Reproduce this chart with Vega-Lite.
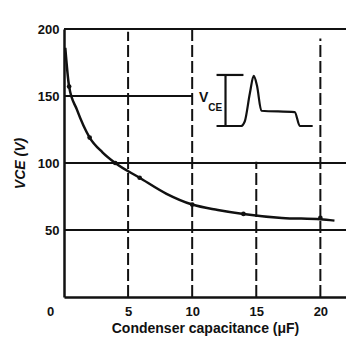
{
  "$schema": "https://vega.github.io/schema/vega-lite/v6.json",
  "autosize": "none",
  "width": 282,
  "height": 268,
  "padding": {"left": 64, "top": 29, "right": 0, "bottom": 42},
  "background": "white",
  "config": {
    "view": {"stroke": null},
    "font": "Liberation Sans",
    "axis": {"grid": false, "domainColor": "#111", "domainWidth": 2.5, "tickColor": "#111", "labelColor": "#111", "titleColor": "#111", "labelFont": "Liberation Sans", "titleFont": "Liberation Sans", "labelFontWeight": "bold", "titleFontWeight": "bold", "labelFontSize": 13, "titleFontSize": 13}
  },
  "datasets": {
    "hlines": [
      {"x": 0, "x2": 22, "y": 200},
      {"x": 0, "x2": 10, "y": 150},
      {"x": 0, "x2": 22, "y": 100},
      {"x": 0, "x2": 22, "y": 50}
    ],
    "vlines": [
      {"x": 5, "y": 0, "y2": 198},
      {"x": 10, "y": 0, "y2": 200},
      {"x": 15, "y": 0, "y2": 101},
      {"x": 20, "y": 0, "y2": 193}
    ],
    "curve": [
      {"c": 0.1, "v": 186},
      {"c": 0.4, "v": 157},
      {"c": 1.0, "v": 140},
      {"c": 2.0, "v": 119},
      {"c": 3.0, "v": 108},
      {"c": 4.0, "v": 100},
      {"c": 5.9, "v": 89},
      {"c": 8.0, "v": 77},
      {"c": 10.0, "v": 69},
      {"c": 12.0, "v": 65},
      {"c": 14.0, "v": 62},
      {"c": 17.0, "v": 59},
      {"c": 20.0, "v": 58},
      {"c": 21.1, "v": 57}
    ],
    "points": [
      {"c": 0.4, "v": 157},
      {"c": 2.0, "v": 119},
      {"c": 4.0, "v": 100},
      {"c": 5.9, "v": 89},
      {"c": 10.0, "v": 69},
      {"c": 14.0, "v": 62},
      {"c": 20.0, "v": 59}
    ],
    "inset": [
      {"part": "top", "o": 1, "t": 11.9, "v": 165.7},
      {"part": "top", "o": 2, "t": 14.0, "v": 165.7},
      {"part": "bar", "o": 1, "t": 12.6, "v": 165.7},
      {"part": "bar", "o": 2, "t": 12.6, "v": 127.6},
      {"part": "wave", "o": 1, "t": 11.9, "v": 127.6},
      {"part": "wave", "o": 2, "t": 13.8, "v": 127.6},
      {"part": "wave", "o": 3, "t": 14.1, "v": 131},
      {"part": "wave", "o": 4, "t": 14.5, "v": 152},
      {"part": "wave", "o": 5, "t": 14.8, "v": 165},
      {"part": "wave", "o": 6, "t": 15.05, "v": 158},
      {"part": "wave", "o": 7, "t": 15.4, "v": 139},
      {"part": "wave", "o": 8, "t": 18.0, "v": 138},
      {"part": "wave", "o": 9, "t": 18.4, "v": 127.6},
      {"part": "wave", "o": 10, "t": 19.4, "v": 127.6}
    ],
    "labels": [
      {"t": 10.9, "v": 148.5, "s": "V", "k": "big"},
      {"t": 11.8, "v": 141, "s": "CE", "k": "small"}
    ]
  },
  "layer": [
    {
      "data": {"name": "hlines"},
      "mark": {"type": "rule", "color": "#111", "strokeWidth": 2},
      "encoding": {
        "x": {"field": "x", "type": "quantitative", "scale": {"domain": [0, 22], "nice": false, "zero": false},
          "axis": {"values": [0, 5, 10, 15, 20], "ticks": false, "labelPadding": 8, "labelFlush": false,
            "labelOffset": {"condition": {"test": "datum.value == 0", "value": -14}, "value": 0},
            "title": "Condenser capacitance (μF)", "titlePadding": 3, "titleFontWeight": "bold", "titleFontSize": 14}},
        "x2": {"field": "x2"},
        "y": {"field": "y", "type": "quantitative", "scale": {"domain": [0, 200], "nice": false},
          "axis": {"values": [50, 100, 150, 200], "ticks": false, "labelPadding": 5,
            "title": "VCE (V)", "titlePadding": 10, "titleFontStyle": "italic", "titleFontSize": 14}}
      }
    },
    {
      "data": {"name": "vlines"},
      "mark": {"type": "rule", "color": "#111", "strokeWidth": 2, "strokeDash": [12, 4]},
      "encoding": {
        "x": {"field": "x", "type": "quantitative"},
        "y": {"field": "y", "type": "quantitative"},
        "y2": {"field": "y2"}
      }
    },
    {
      "data": {"name": "curve"},
      "mark": {"type": "line", "interpolate": "monotone", "color": "#111", "strokeWidth": 2.5},
      "encoding": {
        "x": {"field": "c", "type": "quantitative"},
        "y": {"field": "v", "type": "quantitative"}
      }
    },
    {
      "data": {"name": "points"},
      "mark": {"type": "point", "filled": true, "color": "#111", "size": 22, "opacity": 1},
      "encoding": {
        "x": {"field": "c", "type": "quantitative"},
        "y": {"field": "v", "type": "quantitative"}
      }
    },
    {
      "data": {"name": "inset"},
      "mark": {"type": "line", "color": "#111", "strokeWidth": 2.2, "interpolate": "monotone"},
      "encoding": {
        "x": {"field": "t", "type": "quantitative"},
        "y": {"field": "v", "type": "quantitative"},
        "detail": {"field": "part"},
        "order": {"field": "o"}
      }
    },
    {
      "data": {"name": "labels"},
      "mark": {"type": "text", "color": "#111", "fontWeight": "bold"},
      "encoding": {
        "x": {"field": "t", "type": "quantitative"},
        "y": {"field": "v", "type": "quantitative"},
        "text": {"field": "s"},
        "size": {"field": "k", "type": "nominal", "scale": {"domain": ["big", "small"], "range": [14, 10]}, "legend": null}
      }
    }
  ]
}
